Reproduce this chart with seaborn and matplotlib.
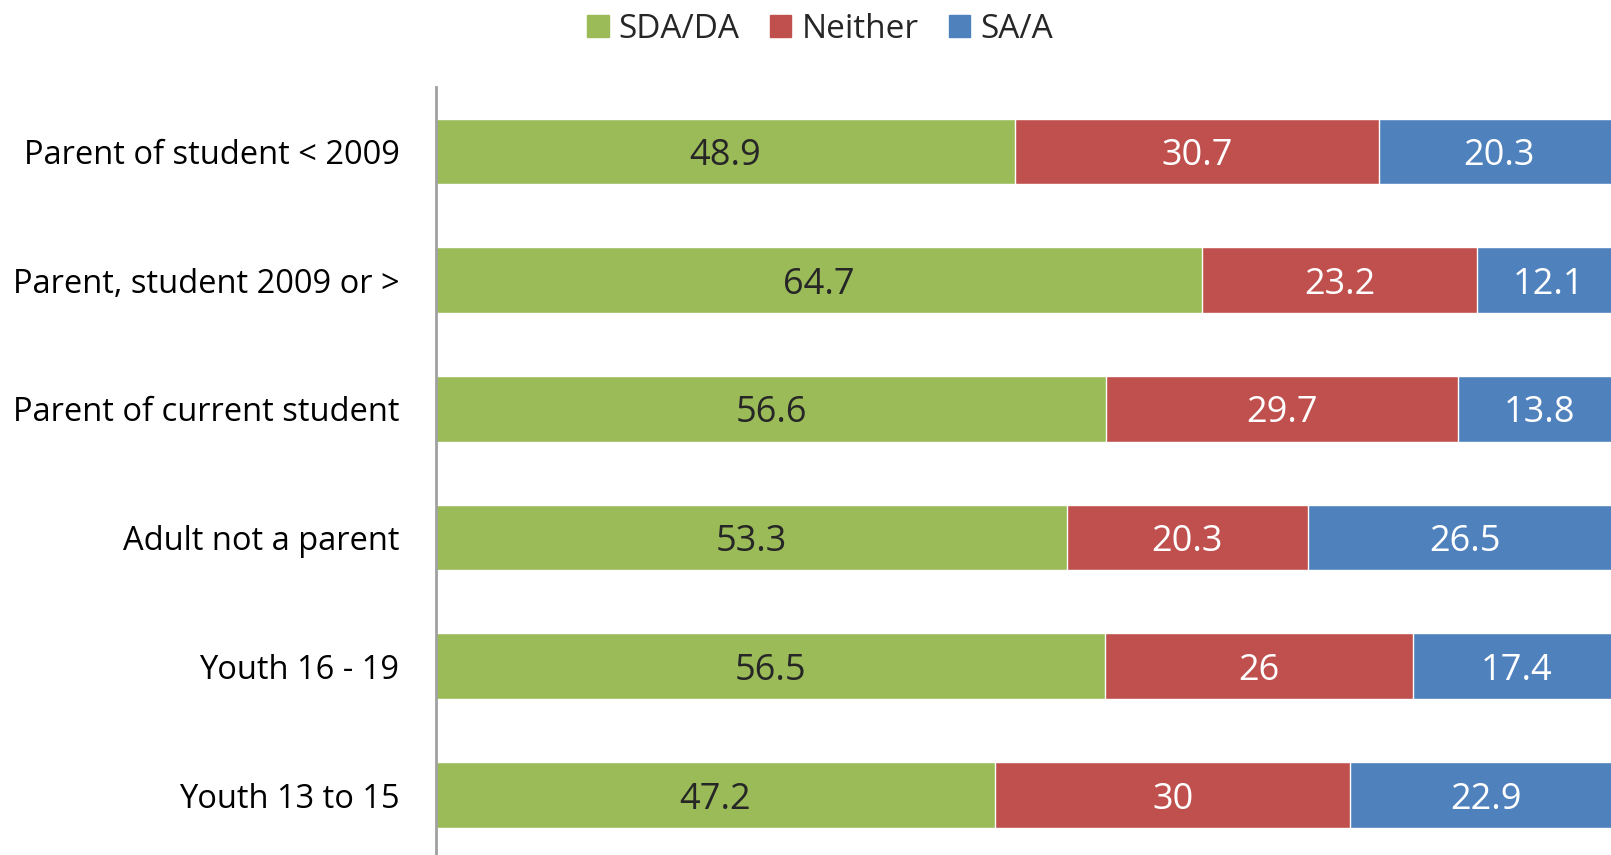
import pandas as pd
import seaborn as sns
import matplotlib.pyplot as plt
from matplotlib.patches import Patch

# Survey groups and the share of each response
groups = ['Parent of student < 2009', 'Parent, student 2009 or >', 'Parent of current student',
          'Adult not a parent', 'Youth 16 - 19', 'Youth 13 to 15']
sda_da = [48.9, 64.7, 56.6, 53.3, 56.5, 47.2]
neither = [30.7, 23.2, 29.7, 20.3, 26, 30]
sa_a = [20.3, 12.1, 13.8, 26.5, 17.4, 22.9]
labels = ['48.9', '64.7', '56.6', '53.3', '56.5', '47.2'], ['30.7', '23.2', '29.7', '20.3', '26', '30'], ['20.3', '12.1', '13.8', '26.5', '17.4', '22.9']

df = pd.DataFrame({'group': groups, 'SDA/DA': sda_da, 'Neither': neither, 'SA/A': sa_a})
df['c1'] = df['SDA/DA']
df['c2'] = df['c1'] + df['Neither']
df['c3'] = df['c2'] + df['SA/A']

sns.set_style('white')
plt.rcParams['font.family'] = ['Open Sans', 'DejaVu Sans']

colors = {'SDA/DA': '#9BBB59', 'Neither': '#C0504D', 'SA/A': '#4F81BD'}

fig = plt.figure(figsize=(16.11, 8.55), dpi=100)
ax = fig.add_axes([0.2704, 0.0, 0.7296, 0.8982])

# stacked bars drawn as overlapping cumulative totals
sns.barplot(data=df, y='group', x='c3', color=colors['SA/A'], orient='h', width=0.51, saturation=1, ax=ax)
sns.barplot(data=df, y='group', x='c2', color=colors['Neither'], orient='h', width=0.51, saturation=1, ax=ax)
sns.barplot(data=df, y='group', x='c1', color=colors['SDA/DA'], orient='h', width=0.51, saturation=1, ax=ax)

# value labels in the middle of each segment
fs = 26
for i in range(len(groups)):
    ax.text(df['c1'][i] / 2, i, labels[0][i], ha='center', va='center_baseline', fontsize=fs, color='#262626')
    ax.text((df['c1'][i] + df['c2'][i]) / 2, i, labels[1][i], ha='center', va='center_baseline', fontsize=fs, color='white')
    ax.text((df['c2'][i] + df['c3'][i]) / 2, i, labels[2][i], ha='center', va='center_baseline', fontsize=fs, color='white')

ax.set_xlim(0, 99.2)
ax.set_ylim(5.466, -0.5)
ax.set_xlabel('')
ax.set_ylabel('')
ax.set_xticks([])
ax.tick_params(axis='y', length=0, labelsize=23.5, pad=26, labelcolor='black')
for s in ['top', 'right', 'bottom']:
    ax.spines[s].set_visible(False)
ax.spines['left'].set_color('#A0A0A0')
ax.spines['left'].set_linewidth(2)

handles = [Patch(color=colors[k], label=k) for k in ['SDA/DA', 'Neither', 'SA/A']]
fig.legend(handles=handles, loc='upper center', bbox_to_anchor=(0.509, 1.02), ncol=3, frameon=False,
           fontsize=24, handlelength=0.65, handleheight=0.65, handletextpad=0.3, columnspacing=0.9)

plt.savefig('out.png', dpi=100)
